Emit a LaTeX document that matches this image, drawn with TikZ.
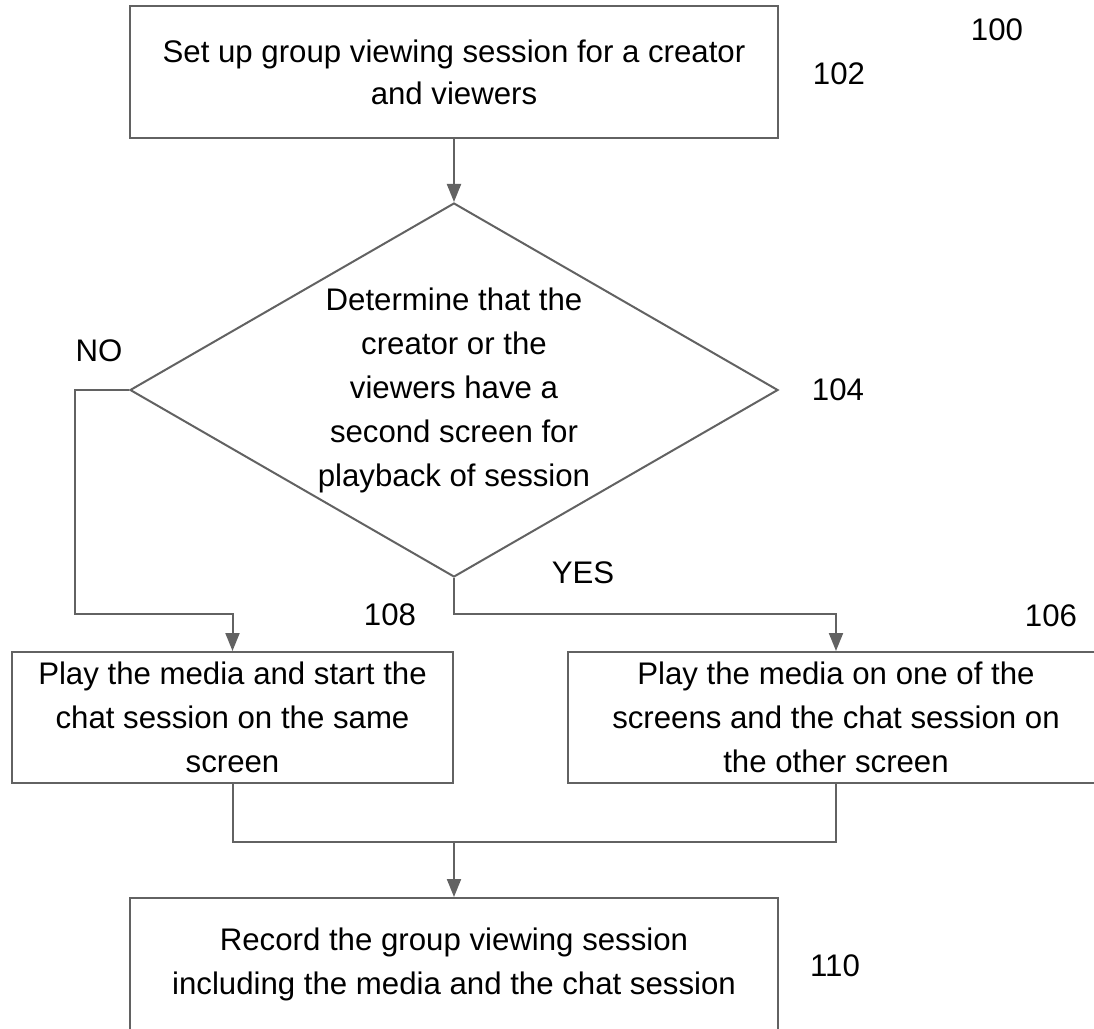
\documentclass[tikz,border=0pt]{standalone}
\usepackage{fontspec}
\setmainfont{Liberation Sans}
\usetikzlibrary{shapes.geometric,arrows.meta}

\definecolor{linegray}{RGB}{98,98,98}

\tikzset{
  stepbox/.style={draw=linegray, line width=1pt, rectangle, align=center, inner sep=0pt},
  decision/.style={draw=linegray, line width=1pt, diamond, aspect=1.733, inner sep=0pt, align=center,
    minimum width=324pt, minimum height=187pt},
  reflabel/.style={inner sep=0pt},
  link/.style={draw=linegray, line width=1pt},
  flow/.style={link, -{Triangle[length=9pt,width=7pt]}}
}

\begin{document}
\begin{tikzpicture}[x=0.5pt, y=-0.5pt, font=\fontsize{15.6pt}{22pt}\selectfont]
  \useasboundingbox (0,0) rectangle (1094,1029);

  % Boxes
  \node[stepbox, minimum width=324pt, minimum height=66pt, font=\fontsize{15.6pt}{21pt}\selectfont] (setup) at (454,72)
    {Set up group viewing session for a creator\\and viewers};
  \node[decision] (decide) at (454,390)
    {Determine that the\\creator or the\\viewers have a\\second screen for\\playback of session};
  \node[stepbox, minimum width=220.5pt, minimum height=65.5pt] (same) at (232.5,717.5)
    {Play the media and start the\\chat session on the same\\screen};
  \node[stepbox, minimum width=268pt, minimum height=65.5pt] (two) at (836,717.5)
    {Play the media on one of the\\screens and the chat session on\\the other screen};
  \node[stepbox, minimum width=324pt, minimum height=66pt] (record) at (454,964)
    {Record the group viewing session\\including the media and the chat session};

  % Reference numbers and branch labels
  \node[reflabel] (n100) at (997,30) {100};
  \node[reflabel] (n102) at (839,74) {102};
  \node[reflabel] (n104) at (838,390) {104};
  \node[reflabel] (n106) at (1051,616) {106};
  \node[reflabel] (n108) at (390,615) {108};
  \node[reflabel] (n110) at (835,966) {110};
  \node[reflabel] (no) at (99,351) {NO};
  \node[reflabel] (yes) at (583,573) {YES};

  % Bends
  \coordinate (nobend) at (75,614);
  \coordinate (yesbend) at (836,614);
  \coordinate (merge) at (454,842);

  % Connectors
  \draw[flow] (setup) -- (decide);
  \draw[flow] (decide.west) -| (nobend) -| (same.north);
  \draw[flow] (decide.south) |- (yesbend) -- (two.north);
  \draw[link] (same.south) |- (merge) -| (two.south);
  \draw[flow] (merge) -- (record.north);
\end{tikzpicture}
\end{document}
